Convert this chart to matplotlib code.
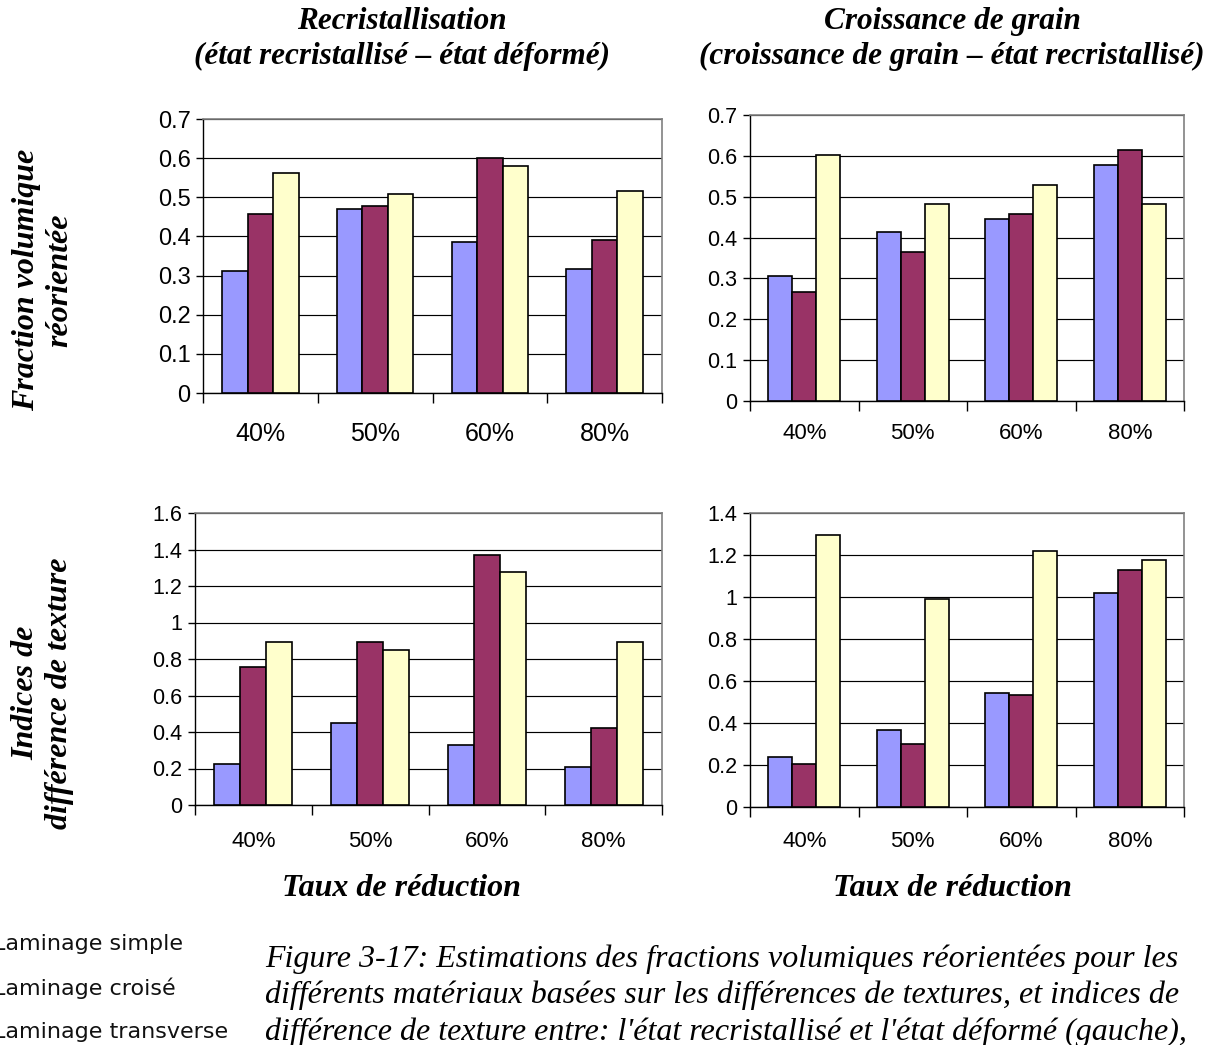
import matplotlib
matplotlib.use("Agg")
import matplotlib.pyplot as plt
import numpy as np

categories = ["40%", "50%", "60%", "80%"]
series_names = ["Laminage simple", "Laminage croisé", "Laminage transverse"]
colors = ["#9999FF", "#993366", "#FFFFCC"]

# Top-left: Recristallisation, fraction volumique réorientée
rec_frac_simple = [0.312, 0.470, 0.387, 0.316]
rec_frac_croise = [0.458, 0.478, 0.600, 0.391]
rec_frac_transv = [0.561, 0.508, 0.579, 0.517]
# Top-right: Croissance de grain, fraction volumique réorientée
cg_frac_simple = [0.307, 0.413, 0.446, 0.577]
cg_frac_croise = [0.266, 0.364, 0.458, 0.614]
cg_frac_transv = [0.603, 0.482, 0.528, 0.482]
# Bottom-left: Recristallisation, indices de différence de texture
rec_idx_simple = [0.225, 0.451, 0.328, 0.210]
rec_idx_croise = [0.757, 0.892, 1.370, 0.423]
rec_idx_transv = [0.892, 0.848, 1.277, 0.892]
# Bottom-right: Croissance de grain, indices de différence de texture
cg_idx_simple = [0.237, 0.369, 0.543, 1.021]
cg_idx_croise = [0.203, 0.302, 0.535, 1.129]
cg_idx_transv = [1.295, 0.989, 1.219, 1.178]

W, H = 1219, 1045
fig = plt.figure(figsize=(W / 100, H / 100), dpi=100)
fig.patch.set_facecolor("white")

def rect(l, t, r, b):
    return [l / W, 1 - b / H, (r - l) / W, (b - t) / H]

serif = "Liberation Serif"
sans = "Liberation Sans"

def draw(ax, data, ymax, ystep, tsize, xsize, xpad):
    x = np.arange(len(categories))
    bw = 1 / 4.5
    for i, vals in enumerate(data):
        ax.bar(x + (i - 1) * bw, vals, bw, color=colors[i], edgecolor="black",
               linewidth=1.2, zorder=3)
    ax.set_xlim(-0.5, len(categories) - 0.5)
    ax.set_ylim(0, ymax)
    yt = np.arange(0, ymax + 1e-9, ystep)
    ax.set_yticks(yt)
    ax.set_yticklabels([("%g" % round(v, 1)) for v in yt], fontsize=tsize,
                       family=sans)
    ax.set_xticks(np.arange(-0.5, len(categories), 1.0))
    ax.set_xticklabels([])
    ax.set_xticks(x, minor=True)
    ax.set_xticklabels(categories, minor=True, fontsize=xsize, family=sans)
    ax.tick_params(axis="x", which="major", length=7, width=1, direction="out",
                   color="black")
    ax.tick_params(axis="x", which="minor", length=0, pad=xpad)
    ax.tick_params(axis="y", length=5, width=1, direction="out", pad=4)
    ax.yaxis.grid(True, color="black", linewidth=0.85, zorder=0)
    ax.set_axisbelow(True)
    for s in ["left", "bottom"]:
        ax.spines[s].set_color("black")
        ax.spines[s].set_linewidth(1.0)
    for s in ["top", "right"]:
        ax.spines[s].set_color("#808080")
        ax.spines[s].set_linewidth(1.2)

ax1 = fig.add_axes(rect(203, 119, 662, 393))
draw(ax1, [rec_frac_simple, rec_frac_croise, rec_frac_transv], 0.7, 0.1, 17, 18, 21)
ax2 = fig.add_axes(rect(750, 115, 1184, 401))
draw(ax2, [cg_frac_simple, cg_frac_croise, cg_frac_transv], 0.7, 0.1, 15.5, 16, 16)
ax3 = fig.add_axes(rect(195, 513, 662, 805))
draw(ax3, [rec_idx_simple, rec_idx_croise, rec_idx_transv], 1.6, 0.2, 15.5, 16, 19)
ax4 = fig.add_axes(rect(750, 513, 1184, 807))
draw(ax4, [cg_idx_simple, cg_idx_croise, cg_idx_transv], 1.4, 0.2, 15.5, 16, 17)

def ft(xp, yp, s, **kw):
    fig.text(xp / W, 1 - yp / H, s, **kw)

tkw = dict(family=serif, fontweight="bold", fontstyle="italic", fontsize=22.5,
           ha="center", va="center", linespacing=1.3)
ft(402, 39, "Recristallisation\n(état recristallisé – état déformé)", **tkw)
ft(952, 39, "Croissance de grain\n(croissance de grain – état recristallisé)", **tkw)

ykw = dict(family=serif, fontweight="bold", fontstyle="italic", fontsize=23,
           ha="center", va="center", rotation=90, multialignment="center",
           linespacing=1.22)
ft(43, 280, "Fraction volumique\nréorientée", **ykw)
ft(43, 693, "Indices de\ndifférence de texture", **ykw)

xkw = dict(family=serif, fontweight="bold", fontstyle="italic", fontsize=23,
           ha="center", va="center")
ft(401, 888, "Taux de réduction", **xkw)
ft(952, 888, "Taux de réduction", **xkw)

for i, name in enumerate(series_names):
    ft(-7, 944 + i * 44, name, family="DejaVu Sans", fontsize=16, ha="left",
       va="center", color="#111111")

cap = ("Figure 3-17: Estimations des fractions volumiques réorientées pour les\n"
       "différents matériaux basées sur les différences de textures, et indices de\n"
       "différence de texture entre: l'état recristallisé et l'état déformé (gauche),")
ft(265, 944, cap, family=serif, fontstyle="italic", fontsize=23, ha="left",
   va="top", linespacing=1.33)

fig.savefig("out.png", dpi=100)
